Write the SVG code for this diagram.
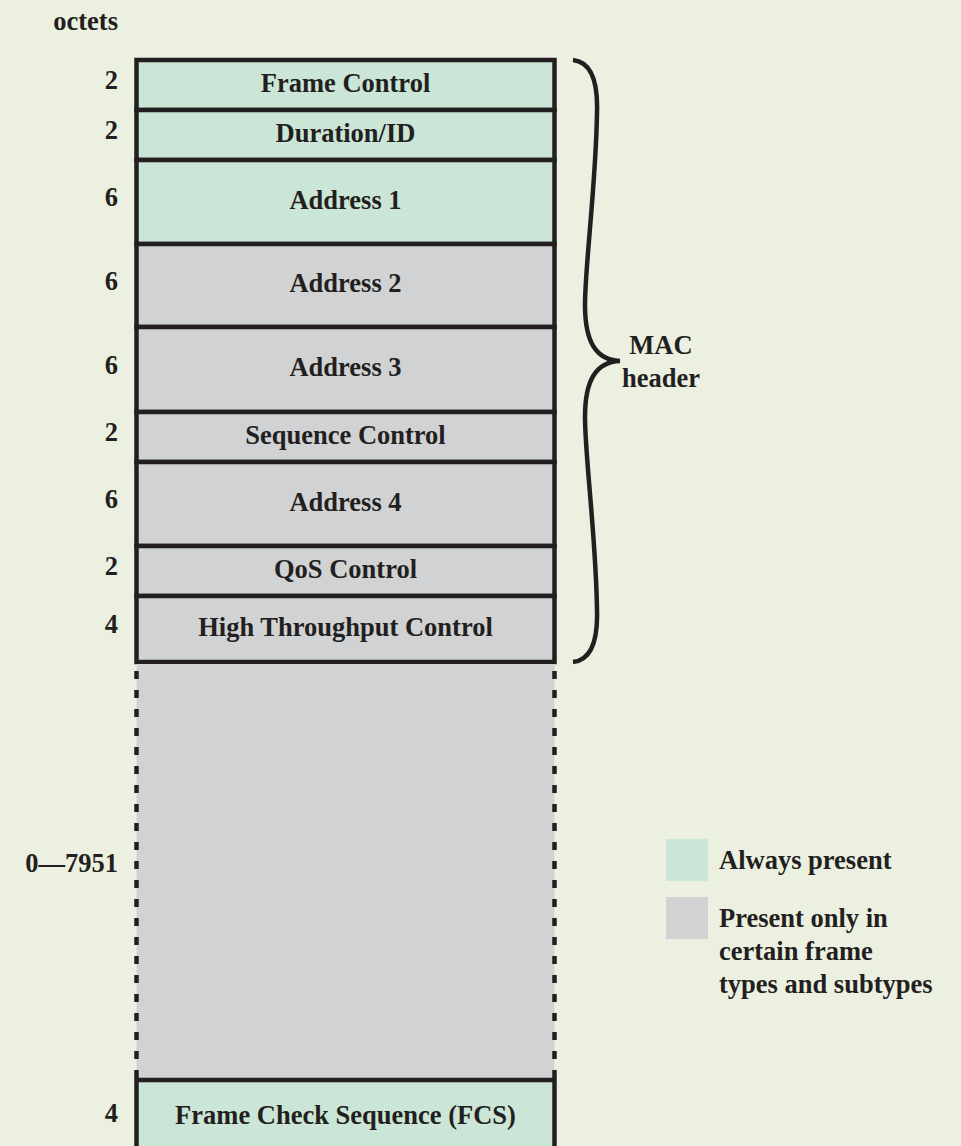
<svg xmlns="http://www.w3.org/2000/svg" width="961" height="1146" viewBox="0 0 961 1146">
<style>
  .t{font-family:"Liberation Serif","Times New Roman",serif;font-weight:bold;font-size:26.5px;fill:#231f20}
  .c{text-anchor:middle}
  .r{text-anchor:end}
  .g{fill:#cbe6d6;stroke:#231f20;stroke-width:4.5}
  .y{fill:#d1d2d4;stroke:#231f20;stroke-width:4.5}
  .d{stroke:#231f20;stroke-width:4.5;stroke-dasharray:8 11;fill:none}
</style>
<rect x="0" y="0" width="961" height="1146" fill="#ecf0e0"/>
<text class="t r" x="118" y="30">octets</text>

<g id="frame-control">
  <rect class="g" x="136.5" y="60" width="418" height="50"/>
  <text class="t r" x="118" y="89">2</text>
  <text class="t c" x="345.5" y="91.5">Frame Control</text>
</g>
<g id="duration-id">
  <rect class="g" x="136.5" y="110" width="418" height="50"/>
  <text class="t r" x="118" y="139">2</text>
  <text class="t c" x="345.5" y="141.5">Duration/ID</text>
</g>
<g id="address-1">
  <rect class="g" x="136.5" y="160" width="418" height="84"/>
  <text class="t r" x="118" y="206">6</text>
  <text class="t c" x="345.5" y="208.5">Address 1</text>
</g>
<g id="address-2">
  <rect class="y" x="136.5" y="244" width="418" height="83"/>
  <text class="t r" x="118" y="289.5">6</text>
  <text class="t c" x="345.5" y="292">Address 2</text>
</g>
<g id="address-3">
  <rect class="y" x="136.5" y="327" width="418" height="85"/>
  <text class="t r" x="118" y="373.5">6</text>
  <text class="t c" x="345.5" y="376">Address 3</text>
</g>
<g id="sequence-control">
  <rect class="y" x="136.5" y="412" width="418" height="50"/>
  <text class="t r" x="118" y="441">2</text>
  <text class="t c" x="345.5" y="443.5">Sequence Control</text>
</g>
<g id="address-4">
  <rect class="y" x="136.5" y="462" width="418" height="84"/>
  <text class="t r" x="118" y="508">6</text>
  <text class="t c" x="345.5" y="510.5">Address 4</text>
</g>
<g id="qos-control">
  <rect class="y" x="136.5" y="546" width="418" height="50"/>
  <text class="t r" x="118" y="575">2</text>
  <text class="t c" x="345.5" y="577.5">QoS Control</text>
</g>
<g id="ht-control">
  <rect class="y" x="136.5" y="596" width="418" height="66"/>
  <text class="t r" x="118" y="633">4</text>
  <text class="t c" x="345.5" y="635.5">High Throughput Control</text>
</g>
<g id="frame-body">
  <rect x="136.5" y="664" width="418" height="414" fill="#d1d2d4"/>
  <line class="d" x1="136.5" y1="671" x2="136.5" y2="1078"/>
  <line class="d" x1="554.5" y1="671" x2="554.5" y2="1078"/>
  <text class="t r" x="118" y="872">0—7951</text>
</g>
<g id="fcs">
  <rect class="g" x="136.5" y="1080" width="418" height="80"/>
  <text class="t r" x="118" y="1122">4</text>
  <text class="t c" x="345.5" y="1124">Frame Check Sequence (FCS)</text>
</g>

<g id="connectors">
  <path d="M573,60 C591,62 598,80 597,112 C596,185 585,265 585,305 C585,342 596,360 620,361 C596,362 585,380 585,417 C585,457 596,537 597,610 C598,642 591,660 573,662" fill="none" stroke="#231f20" stroke-width="4.5"/>
</g>
<g id="mac-header-label">
  <text class="t c" x="661" y="354">MAC</text>
  <text class="t c" x="661" y="387">header</text>
</g>

<g id="legend">
  <rect x="666" y="839" width="42" height="42" fill="#cbe6d6"/>
  <text class="t" x="719" y="869">Always present</text>
  <rect x="666" y="897" width="42" height="42" fill="#d1d2d4"/>
  <text class="t" x="719" y="927">Present only in</text>
  <text class="t" x="719" y="960">certain frame</text>
  <text class="t" x="719" y="993">types and subtypes</text>
</g>
</svg>
